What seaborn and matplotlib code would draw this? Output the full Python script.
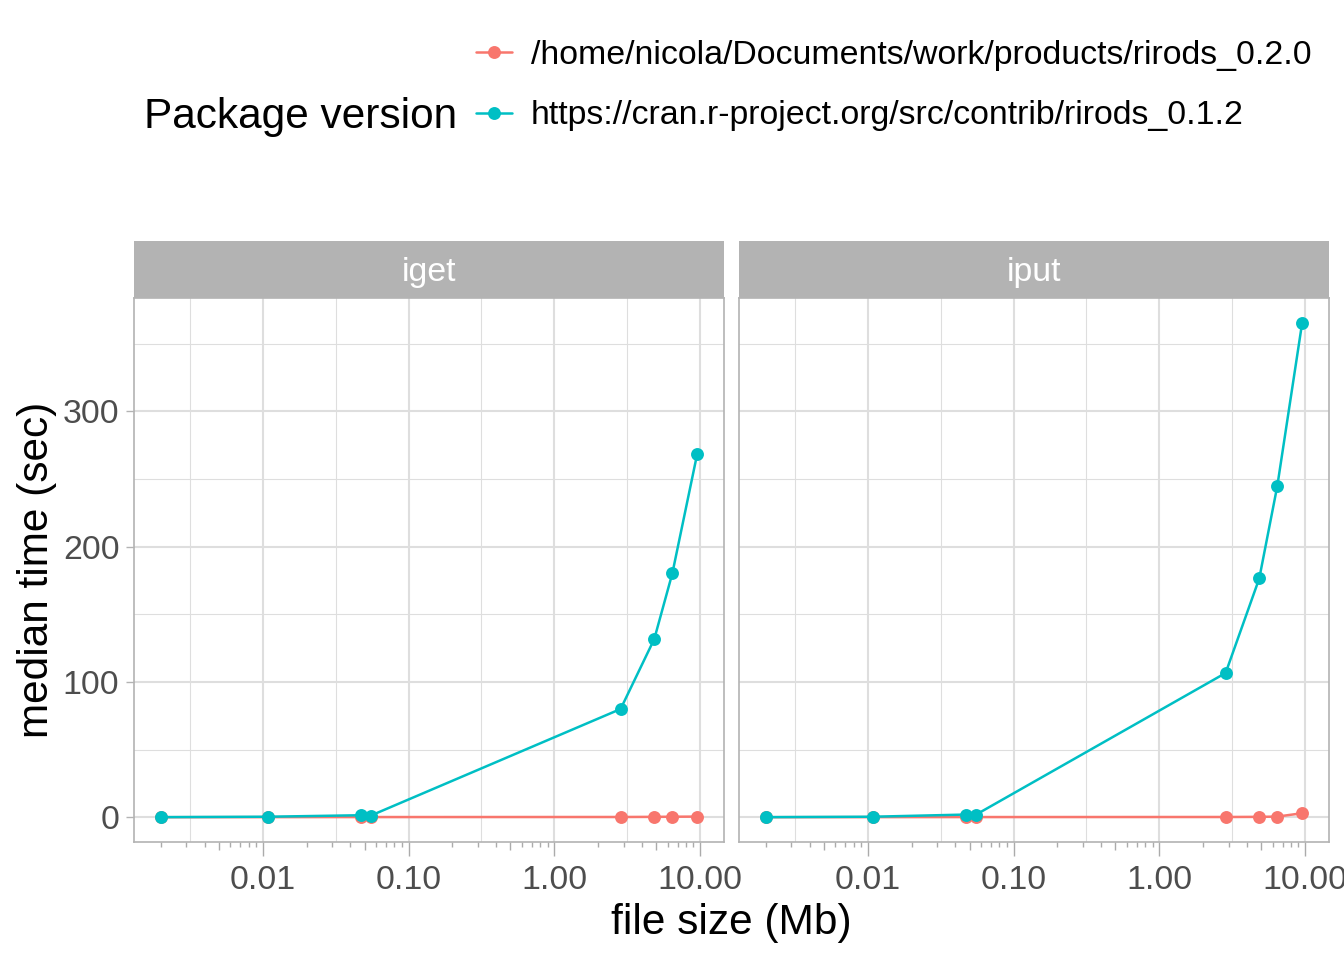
import numpy as np
import pandas as pd
import matplotlib
matplotlib.use("Agg")
import matplotlib.pyplot as plt
import seaborn as sns
from matplotlib.lines import Line2D
from matplotlib.patches import Rectangle

# file sizes in Mb (same for both operations)
file_size = [0.002, 0.0108, 0.047, 0.055, 2.85, 4.85, 6.45, 9.55]

versions = ["/home/nicola/Documents/work/products/rirods_0.2.0",
            "https://cran.r-project.org/src/contrib/rirods_0.1.2"]
colors = ["#F8766D", "#00BFC4"]
operations = ["iget", "iput"]

# median time (sec)
iget_new = [0.05, 0.1, 0.15, 0.15, 0.2, 0.3, 0.4, 0.5]
iget_old = [0.1, 0.4, 1.5, 1.2, 80.0, 131.7, 180.2, 268.4]
iput_new = [0.05, 0.1, 0.15, 0.15, 0.2, 0.3, 0.5, 3.0]
iput_old = [0.1, 0.4, 2.0, 1.8, 106.6, 176.5, 244.9, 365.4]

x_breaks = [0.01, 0.1, 1, 10]
x_labels = ["0.01", "0.10", "1.00", "10.00"]
y_breaks = [0, 100, 200, 300]

rows = []
for op, new, old in [("iget", iget_new, iget_old), ("iput", iput_new, iput_old)]:
    for s, t in zip(file_size, new):
        rows.append({"op": op, "size": s, "time": t, "version": versions[0]})
    for s, t in zip(file_size, old):
        rows.append({"op": op, "size": s, "time": t, "version": versions[1]})
df = pd.DataFrame(rows)

sns.set_theme(style="white")
plt.rcParams["font.family"] = ["Liberation Sans", "DejaVu Sans"]
plt.rcParams["text.color"] = "black"

W, H = 1344, 960
fig = plt.figure(figsize=(W / 100, H / 100), dpi=100)

# x and y limits with ggplot-style 5% expansion
lx = np.log10([min(file_size), max(file_size)])
dx = (lx[1] - lx[0]) * 0.05
xlim = (10 ** (lx[0] - dx), 10 ** (lx[1] + dx))
ymax = df["time"].max()
ylim = (-0.05 * ymax, ymax * 1.05)

grid_col = "#DEDEDE"
frame_col = "#B3B3B3"
tick_fs = 24.4
title_fs = 30.5
panel_h = 544

for i, op in enumerate(operations):
    left = [134, 739][i]
    ax = fig.add_axes([left / W, (H - 842) / H, 590 / W, panel_h / H])
    sns.lineplot(data=df[df["op"] == op], x="size", y="time", hue="version",
                 hue_order=versions, palette=colors, marker="o", markersize=9.3,
                 markeredgewidth=0, linewidth=1.8, ax=ax, legend=False, zorder=3)
    ax.set_xscale("log")

    # grid
    minor_x = [10 ** v for v in [-2.5, -1.5, -0.5, 0.5]]
    for v in minor_x:
        ax.axvline(v, color=grid_col, lw=0.8, zorder=0)
    for v in x_breaks:
        ax.axvline(v, color=grid_col, lw=1.5, zorder=0)
    for v in [50, 150, 250, 350]:
        ax.axhline(v, color=grid_col, lw=0.8, zorder=0)
    for v in y_breaks:
        ax.axhline(v, color=grid_col, lw=1.5, zorder=0)

    # log ticks under the panel
    trans = ax.get_xaxis_transform()
    for dec in range(-3, 2):
        for k in range(1, 10):
            v = k * 10.0 ** dec
            if not (xlim[0] <= v <= xlim[1]):
                continue
            ln = 14 if k == 1 else (8 if k == 5 else 5)
            ax.plot([v, v], [0, -ln / panel_h], transform=trans, color="#ABABAB",
                    lw=1.0, clip_on=False, solid_capstyle="butt")

    ax.set_xlim(xlim)
    ax.set_ylim(ylim)
    ax.set_xticks(x_breaks)
    ax.set_xticklabels(x_labels)
    ax.minorticks_off()
    ax.tick_params(axis="x", length=0, pad=16.5, labelsize=tick_fs, labelcolor="#4D4D4D")
    ax.set_yticks(y_breaks)
    if i == 0:
        ax.tick_params(axis="y", length=5.5, width=1.0, color=frame_col, pad=5.0,
                       labelsize=tick_fs, labelcolor="#4D4D4D", left=True)
    else:
        ax.tick_params(axis="y", length=0, labelleft=False)
    ax.set_xlabel("")
    ax.set_ylabel("")
    ax.grid(False)
    for sp in ax.spines.values():
        sp.set_color(frame_col)
        sp.set_linewidth(1.2)

    # facet strip
    sh = 57 / panel_h
    ax.add_patch(Rectangle((0, 1), 1, sh, transform=ax.transAxes, facecolor="#B3B3B3",
                           edgecolor="none", clip_on=False))
    ax.text(0.5, 1 + (57 / 2 - 3) / panel_h, op, transform=ax.transAxes, ha="center",
            va="center", color="white", fontsize=tick_fs)

fig.text(731 / W, (H - 934) / H, "file size (Mb)", ha="center", va="baseline",
         fontsize=title_fs)
fig.text(37 / W, (H - 570) / H, "median time (sec)", ha="center", va="center",
         rotation=90, fontsize=title_fs)

handles = [Line2D([], [], color=c, marker="o", lw=1.8, ms=9.3, markeredgewidth=0)
           for c in colors]
fig.legend(handles, versions, loc="center left", bbox_to_anchor=(476 / W, (H - 85.5) / H),
           frameon=False, handlelength=1.06, handletextpad=0.56, labelspacing=0.88,
           fontsize=tick_fs, borderpad=0, borderaxespad=0)
fig.text(457 / W, (H - 128) / H, "Package version", ha="right", va="baseline",
         fontsize=title_fs)

fig.savefig("out.png", dpi=100)
